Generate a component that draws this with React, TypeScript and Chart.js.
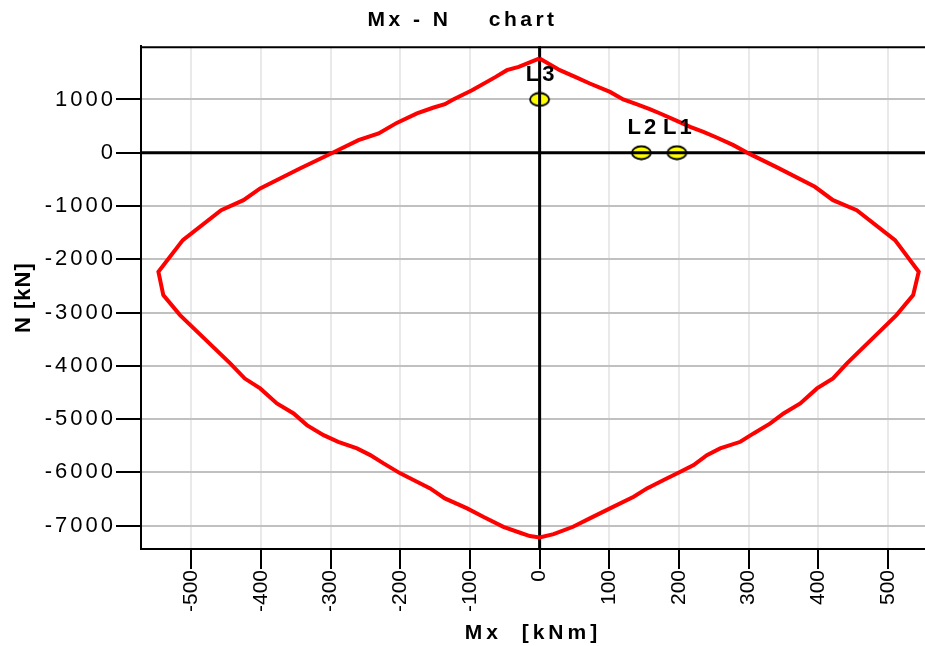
import React, { useEffect, useRef } from 'react';
import { Chart, registerables } from 'chart.js';

Chart.register(...registerables);

const FONT = "'Liberation Sans', Arial, sans-serif";

// Interaction curve (Mx [kNm], N [kN]) traced around the diagram
const curveMx = [
  0, 29, 51, 72, 101, 120, 139, 158, 173, 197, 216, 235, 254, 278, 302, 340, 395, 421, 455, 510,
  544, 536, 512, 441, 421, 398, 374, 350, 331, 307, 288, 259, 240, 221, 202, 178, 154, 135, 101, 72,
  48, 20, 0, -14, -28, -52, -81, -104, -136, -157, -181, -200, -224, -243, -262, -289, -310, -334, -353, -377,
  -401, -423, -444, -516, -540, -547, -512, -457, -425, -401, -344, -297, -260, -231, -205, -176, -152, -136, -124, -97,
  -63, -47, -30, 0,
];
const curveN = [
  1770, 1550, 1424, 1300, 1142, 1000, 911, 817, 737, 598, 485, 392, 286, 142, -27, -270, -640, -891, -1078, -1641,
  -2236, -2674, -3049, -3956, -4237, -4425, -4707, -4895, -5083, -5270, -5427, -5551, -5677, -5864, -5990, -6146, -6302, -6460, -6677, -6865,
  -7023, -7160, -7222, -7197, -7135, -7023, -6835, -6677, -6490, -6302, -6146, -6020, -5833, -5677, -5551, -5427, -5302, -5114, -4895, -4707,
  -4425, -4240, -3956, -3049, -2674, -2236, -1641, -1078, -891, -671, -296, 0, 236, 361, 560, 737, 849, 911, 1000, 1174,
  1424, 1550, 1612, 1770,
];

// Load points
const loadNames = ['L1', 'L2', 'L3'];
const loadMx = [197, 146, 0];
const loadN = [0, 0, 1000];

// Axes
const xTickValues = [-500, -400, -300, -200, -100, 0, 100, 200, 300, 400, 500];
const yTickValues = [-7000, -6000, -5000, -4000, -3000, -2000, -1000, 0, 1000];
const xMin = -572;
const xMax = 553;
const yMin = -7440;
const yMax = 2000;

const chartTitle = 'Mx - N    chart';
const xTitle = 'Mx  [kNm]';
const yTitle = 'N [kN]';

export default function App() {
  const ref = useRef<HTMLCanvasElement>(null);

  useEffect(() => {
    const canvas = ref.current;
    if (!canvas) return;

    const marker = document.createElement('canvas');
    marker.width = 23;
    marker.height = 16;
    const m = marker.getContext('2d')!;
    m.beginPath();
    m.ellipse(11.5, 8, 9.5, 6.5, 0, 0, Math.PI * 2);
    m.fillStyle = '#ffff00';
    m.fill();
    m.lineWidth = 1.8;
    m.strokeStyle = '#000';
    m.stroke();

    const spaced = (fn: any, px: string) =>
      function (this: any, ...args: any[]) {
        const c = this.ctx;
        c.save();
        c.letterSpacing = px;
        fn.apply(this, args);
        c.restore();
      };

    const decor = {
      id: 'decor',
      beforeDraw(chart: any) {
        const ys = chart.scales.y;
        const xs = chart.scales.x;
        if (ys && !ys.__sp) {
          ys.drawLabels = spaced(ys.drawLabels, '3px');
          ys.drawTitle = spaced(ys.drawTitle, '1px');
          ys.__sp = true;
        }
        if (xs && !xs.__sp) {
          xs.drawTitle = spaced(xs.drawTitle, '4px');
          xs.__sp = true;
        }
        const tb = chart.titleBlock;
        if (tb && !tb.__sp) {
          tb.draw = spaced(tb.draw, '3.5px');
          tb.__sp = true;
        }
      },
      beforeDatasetDraw(chart: any, args: any) {
        if (args.index !== 0) return;
        const { ctx, chartArea: a } = chart;
        const x0 = chart.scales.x.getPixelForValue(0);
        const y0 = chart.scales.y.getPixelForValue(0);
        ctx.save();
        ctx.strokeStyle = '#000';
        ctx.lineWidth = 3;
        ctx.beginPath();
        ctx.moveTo(x0, a.top);
        ctx.lineTo(x0, a.bottom);
        ctx.moveTo(a.left, y0);
        ctx.lineTo(a.right, y0);
        ctx.stroke();
        ctx.lineWidth = 2;
        ctx.beginPath();
        ctx.moveTo(a.left, a.top + 1);
        ctx.lineTo(a.right, a.top + 1);
        ctx.stroke();
        ctx.restore();
      },
      afterDatasetsDraw(chart: any) {
        const { ctx } = chart;
        const meta = chart.getDatasetMeta(1);
        ctx.save();
        ctx.font = `bold 22px ${FONT}`;
        ctx.letterSpacing = '3px';
        ctx.fillStyle = '#000';
        ctx.textAlign = 'center';
        ctx.textBaseline = 'middle';
        meta.data.forEach((el: any, i: number) => {
          ctx.fillText(loadNames[i], el.x + 2, el.y - 25);
        });
        ctx.restore();
      },
    };

    const chart = new Chart(canvas, {
      type: 'scatter',
      data: {
        datasets: [
          {
            label: 'curve',
            data: curveMx.map((x, i) => ({ x, y: curveN[i] })),
            showLine: true,
            borderColor: '#ff0000',
            backgroundColor: '#ff0000',
            borderWidth: 4,
            pointRadius: 0,
            fill: false,
            tension: 0,
            clip: false as any,
          },
          {
            label: 'loads',
            data: loadMx.map((x, i) => ({ x, y: loadN[i] })),
            pointStyle: marker as any,
            pointRadius: 10,
            showLine: false,
          },
        ],
      },
      options: {
        animation: false,
        responsive: false,
        layout: { padding: 0, autoPadding: false },
        plugins: {
          legend: { display: false },
          tooltip: { enabled: false },
          title: {
            display: true,
            text: chartTitle,
            color: '#000',
            font: { family: FONT, size: 21, weight: 'bold' },
            padding: { top: 8, bottom: 13 },
          },
        },
        scales: {
          x: {
            type: 'linear',
            min: xMin,
            max: xMax,
            afterBuildTicks: (s: any) => {
              s.ticks = xTickValues.map((v) => ({ value: v }));
            },
            afterFit: (s: any) => {
              s.height = 97;
              s.paddingLeft = 0;
              s.paddingRight = 0;
            },
            ticks: {
              font: { family: FONT, size: 21 },
              color: '#000',
              padding: 1,
              minRotation: 90,
              maxRotation: 90,
              autoSkip: false,
              callback: (v: any) => String(v),
            },
            grid: {
              color: (c: any) => (c.tick && c.tick.value === 0 ? 'rgba(0,0,0,0)' : '#e9e9e9'),
              lineWidth: 2,
              tickLength: 20,
              tickColor: '#000',
              tickWidth: 2,
            },
            border: { display: true, color: '#000', width: 2 },
            title: {
              display: true,
              text: xTitle,
              color: '#000',
              font: { family: FONT, size: 21, weight: 'bold' },
              padding: { top: 0, bottom: 0 },
            },
          },
          y: {
            type: 'linear',
            min: yMin,
            max: yMax,
            afterBuildTicks: (s: any) => {
              s.ticks = yTickValues.map((v) => ({ value: v }));
            },
            afterFit: (s: any) => {
              s.width = 141;
              s.paddingTop = 0;
              s.paddingBottom = 0;
            },
            ticks: {
              font: { family: FONT, size: 22 },
              color: '#000',
              padding: 0,
              autoSkip: false,
              callback: (v: any) => String(v),
            },
            grid: {
              color: (c: any) => (c.tick && c.tick.value === 0 ? 'rgba(0,0,0,0)' : '#c0c0c0'),
              lineWidth: 2,
              tickLength: 25,
              tickColor: '#000',
              tickWidth: 2,
            },
            border: { display: true, color: '#000', width: 2 },
            title: {
              display: true,
              text: yTitle,
              color: '#000',
              font: { family: FONT, size: 22, weight: 'bold' },
              padding: { top: 11, bottom: 0 },
            },
          },
        },
      } as any,
      plugins: [decor as any],
    });

    return () => chart.destroy();
  }, []);

  return (
    <div style={{ position: 'absolute', left: 0, top: 0, width: 925, height: 646 }}>
      <canvas ref={ref} width={925} height={646} style={{ display: 'block' }} />
    </div>
  );
}
